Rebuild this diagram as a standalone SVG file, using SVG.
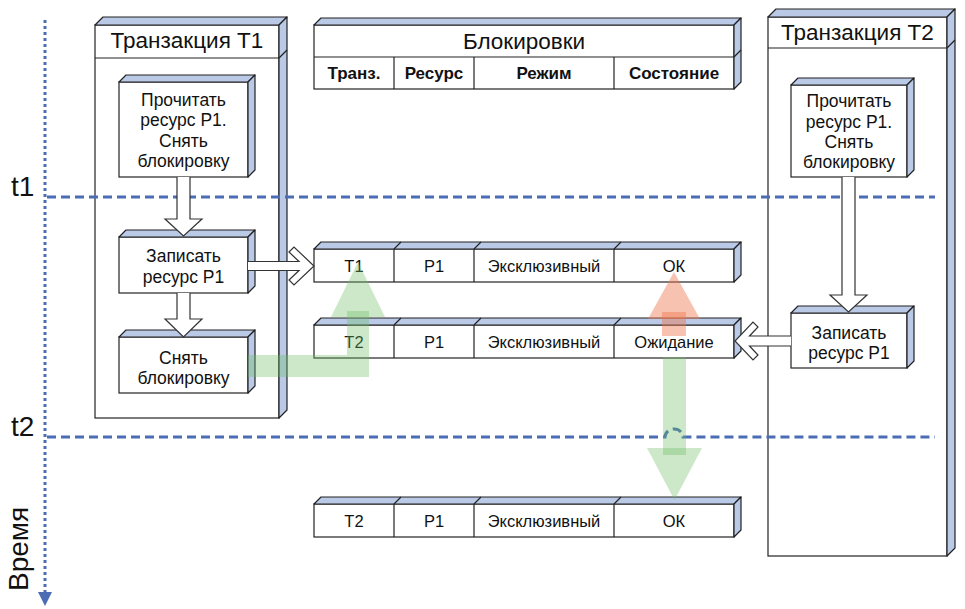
<svg xmlns="http://www.w3.org/2000/svg" width="965" height="609" viewBox="0 0 965 609">
<style>
.front{fill:#fff;stroke:#222;stroke-width:1.2}
.side{fill:#b9c9e6;stroke:#222;stroke-width:1.2;stroke-linejoin:round}
.ln{stroke:#222;stroke-width:1.2;fill:none}
.t{font-family:"Liberation Sans",Arial,sans-serif;fill:#111;text-anchor:middle}
.title{font-size:22.5px}
.inner{font-size:17.5px}
.cell{font-size:16.5px}
.hdr{font-size:17px;font-weight:bold}
.axis{font-family:"Liberation Sans",Arial,sans-serif;font-size:28px;fill:#111}
.dash{stroke:#4a6db3;stroke-width:3;fill:none;stroke-dasharray:9 5}
.blk{fill:#fff;stroke:#333;stroke-width:1.2;stroke-linejoin:miter}
.green{fill:rgb(110,190,100);fill-opacity:0.35}
.orange{fill:rgb(240,120,80);fill-opacity:0.45}
</style>
<rect width="965" height="609" fill="#fff"/>

<!-- time axis -->
<g id="time-axis">
<line x1="45" y1="20" x2="45" y2="594" stroke="#4a6db3" stroke-width="3" stroke-dasharray="3 3"/>
<polygon points="38,592 52,592 45,606" fill="#4a6db3"/>
<text class="axis" x="11" y="196">t1</text>
<text class="axis" x="11" y="436">t2</text>
<text class="axis" transform="translate(28,591) rotate(-90)">Время</text>
</g>

<!-- Transaction T1 -->
<g id="tx1">
<rect class="front" x="95" y="25" width="184" height="393"/>
<polygon class="side" points="95,25 103,17 287,17 279,25"/>
<polygon class="side" points="279,25 287,17 287,410 279,418"/>
<line class="ln" x1="95" y1="58" x2="279" y2="58"/>
<line class="ln" x1="279" y1="58" x2="287" y2="50"/>
<text class="t title" x="187" y="48">Транзакция Т1</text>
</g>

<!-- Transaction T2 -->
<g id="tx2">
<rect class="front" x="768" y="17" width="179" height="539"/>
<polygon class="side" points="768,17 776,9 955,9 947,17"/>
<polygon class="side" points="947,17 955,9 955,548 947,556"/>
<line class="ln" x1="768" y1="48" x2="947" y2="48"/>
<line class="ln" x1="947" y1="48" x2="955" y2="40"/>
<text class="t title" x="857.5" y="40">Транзакция Т2</text>
</g>

<!-- Locks table header -->
<g id="locks-header">
<rect class="front" x="314" y="25" width="420" height="64"/>
<polygon class="side" points="314,25 321,18 741,18 734,25"/>
<polygon class="side" points="734,25 741,18 741,82 734,89"/>
<line class="ln" x1="314" y1="57" x2="734" y2="57"/>
<line class="ln" x1="734" y1="57" x2="741" y2="50"/>
<line class="ln" x1="394" y1="57" x2="394" y2="89"/>
<line class="ln" x1="474" y1="57" x2="474" y2="89"/>
<line class="ln" x1="614" y1="57" x2="614" y2="89"/>
<text class="t title" x="524" y="49">Блокировки</text>
<text class="t hdr" x="354" y="79">Транз.</text>
<text class="t hdr" x="434" y="79">Ресурс</text>
<text class="t hdr" x="544" y="79">Режим</text>
<text class="t hdr" x="674" y="79">Состояние</text>
</g>

<!-- dashed time lines -->
<g id="time-lines">
<line class="dash" x1="47" y1="197" x2="935" y2="197"/>
<path class="dash" d="M47,437 H665 A9,8 0 0 1 683,437 H935"/>
</g>

<!-- Lock rows -->
<g id="row1">
<rect class="front" x="314" y="249" width="420" height="33"/>
<polygon class="side" points="314,249 321,242 741,242 734,249"/>
<polygon class="side" points="734,249 741,242 741,275 734,282"/>
<path class="ln" d="M394,249 V282 M474,249 V282 M614,249 V282 M394,249 L401,242 M474,249 L481,242 M614,249 L621,242"/>
<text class="t cell" x="354" y="271.5">Т1</text>
<text class="t cell" x="434" y="271.5">Р1</text>
<text class="t cell" x="544" y="271.5">Эксклюзивный</text>
<text class="t cell" x="674" y="271.5">ОК</text>
</g>
<g id="row2">
<rect class="front" x="314" y="325" width="420" height="33"/>
<polygon class="side" points="314,325 321,318 741,318 734,325"/>
<polygon class="side" points="734,325 741,318 741,351 734,358"/>
<path class="ln" d="M394,325 V358 M474,325 V358 M614,325 V358 M394,325 L401,318 M474,325 L481,318 M614,325 L621,318"/>
<text class="t cell" x="354" y="347.5">Т2</text>
<text class="t cell" x="434" y="347.5">Р1</text>
<text class="t cell" x="544" y="347.5">Эксклюзивный</text>
<text class="t cell" x="674" y="347.5">Ожидание</text>
</g>
<g id="row3">
<rect class="front" x="314" y="504" width="420" height="33"/>
<polygon class="side" points="314,504 321,497 741,497 734,504"/>
<polygon class="side" points="734,504 741,497 741,530 734,537"/>
<path class="ln" d="M394,504 V537 M474,504 V537 M614,504 V537 M394,504 L401,497 M474,504 L481,497 M614,504 L621,497"/>
<text class="t cell" x="354" y="526.5">Т2</text>
<text class="t cell" x="434" y="526.5">Р1</text>
<text class="t cell" x="544" y="526.5">Эксклюзивный</text>
<text class="t cell" x="674" y="526.5">ОК</text>
</g>

<!-- Inner step boxes -->
<g id="t1-read">
<rect class="front" x="119" y="82" width="129" height="95"/>
<polygon class="side" points="119,82 126,75 255,75 248,82"/>
<polygon class="side" points="248,82 255,75 255,170 248,177"/>
<text class="t inner" x="183.5" y="105.5">Прочитать</text>
<text class="t inner" x="183.5" y="126">ресурс Р1.</text>
<text class="t inner" x="183.5" y="146.5">Снять</text>
<text class="t inner" x="183.5" y="166.5">блокировку</text>
</g>
<g id="t1-write">
<rect class="front" x="119" y="237" width="129" height="56"/>
<polygon class="side" points="119,237 126,230 255,230 248,237"/>
<polygon class="side" points="248,237 255,230 255,286 248,293"/>
<text class="t inner" x="183.5" y="261.5">Записать</text>
<text class="t inner" x="183.5" y="282.5">ресурс Р1</text>
</g>
<g id="t1-unlock">
<rect class="front" x="119" y="337" width="129" height="56"/>
<polygon class="side" points="119,337 126,330 255,330 248,337"/>
<polygon class="side" points="248,337 255,330 255,386 248,393"/>
<text class="t inner" x="183.5" y="363.5">Снять</text>
<text class="t inner" x="183.5" y="383.5">блокировку</text>
</g>
<g id="t2-read">
<rect class="front" x="791" y="85" width="116" height="92"/>
<polygon class="side" points="791,85 798,78 914,78 907,85"/>
<polygon class="side" points="907,85 914,78 914,170 907,177"/>
<text class="t inner" x="849" y="106.5">Прочитать</text>
<text class="t inner" x="849" y="127.5">ресурс Р1.</text>
<text class="t inner" x="849" y="148">Снять</text>
<text class="t inner" x="849" y="168">блокировку</text>
</g>
<g id="t2-write">
<rect class="front" x="791" y="313" width="116" height="55"/>
<polygon class="side" points="791,313 798,306 914,306 907,313"/>
<polygon class="side" points="907,313 914,306 914,361 907,368"/>
<text class="t inner" x="849" y="338.5">Записать</text>
<text class="t inner" x="849" y="358.5">ресурс Р1</text>
</g>

<!-- Connectors -->
<g id="connectors">
<path class="blk" d="M177,177 V219 H165 L183.5,236 L202,219 H190 V177"/>
<path class="blk" d="M177,293 V319 H165 L183.5,337 L202,319 H190 V293"/>
<path class="blk" d="M248,261.5 H299 L289,252 L294,247 L314,266 L294,285 L289,280 L299,270.5 H248"/>
<path class="blk" d="M842,177 V295 H830 L848.5,312 L867,295 H855 V177"/>
<path class="blk" d="M791,336 H749.5 L758,327 L753,322 L735,341 L753,360 L758,355 L749.5,346 H791"/>
<!-- green: T1 unlock to T1 row -->
<path class="green" d="M248,355 H347 V311 H369 V377 H248 Z"/>
<polygon class="green" points="331,317 385,317 358,262"/>
<!-- orange: waiting to OK -->
<rect class="orange" x="662" y="312" width="24" height="24"/>
<polygon class="orange" points="648,319 700,319 674,272"/>
<!-- green: waiting to OK (t2) -->
<rect class="green" x="663" y="357" width="23" height="98"/>
<polygon class="green" points="647,448 702,448 674.5,500"/>
</g>
</svg>
